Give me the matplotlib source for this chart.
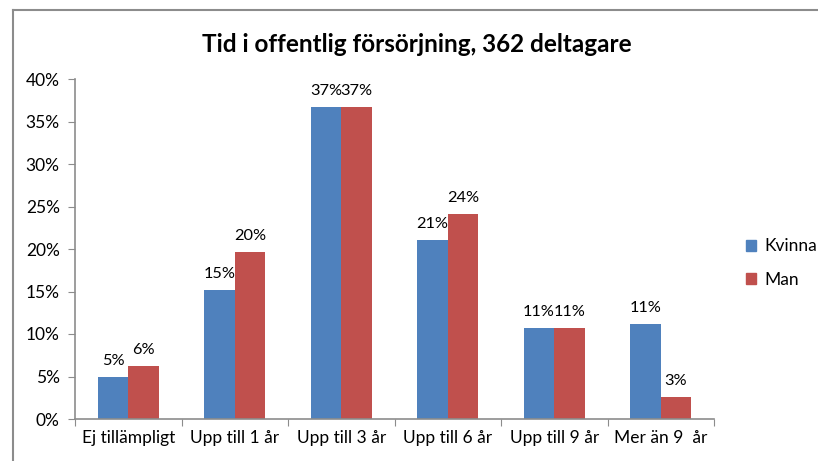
import matplotlib
matplotlib.use("Agg")
import matplotlib.pyplot as plt
import numpy as np
from matplotlib.lines import Line2D
from matplotlib.patches import Patch

categories = ["Ej tillämpligt", "Upp till 1 år", "Upp till 3 år", "Upp till 6 år", "Upp till 9 år", "Mer än 9  år"]
kvinna = [4.9, 15.2, 36.7, 21.1, 10.7, 11.2]
man = [6.2, 19.6, 36.7, 24.1, 10.7, 2.6]
kvinna_labels = ["5%", "15%", "37%", "21%", "11%", "11%"]
man_labels = ["6%", "20%", "37%", "24%", "11%", "3%"]
yticks = [0, 5, 10, 15, 20, 25, 30, 35, 40]
title = "Tid i offentlig försörjning, 362 deltagare"

plt.rcParams['font.family'] = ['Lato', 'DejaVu Sans']
blue = "#4F81BD"
red = "#C0504D"
grey = "#8C8C8C"

W, H = 818, 461
fig = plt.figure(figsize=(W / 100, H / 100), dpi=100)
fig.patch.set_facecolor("white")
ax = fig.add_axes([75 / W, 1 - 419 / H, (714 - 75) / W, (419 - 79) / H])

x = np.arange(len(categories))
w = 1 / 3.5
b1 = ax.bar(x - w / 2, kvinna, width=w, color=blue, label="Kvinna")
b2 = ax.bar(x + w / 2, man, width=w, color=red, label="Man")

for bars, labels in ((b1, kvinna_labels), (b2, man_labels)):
    for rect, lab in zip(bars, labels):
        ax.annotate(lab, (rect.get_x() + rect.get_width() / 2, rect.get_height()),
                    xytext=(0, 6.5), textcoords="offset points", ha="center", va="bottom",
                    fontsize=11.8, color="black")

ax.set_xlim(-0.5, len(categories) - 0.5)
ax.set_ylim(0, 40)
ax.set_yticks(yticks)
ax.set_yticklabels([f"{v}%" for v in yticks], fontsize=12.5)
ax.set_xticks(np.arange(len(categories) + 1) - 0.5)
ax.set_xticklabels([])
ax.set_xticks(x, minor=True)
ax.set_xticklabels(categories, minor=True, fontsize=12.5)
ax.tick_params(axis="x", which="major", length=5, color=grey, direction="out")
ax.tick_params(axis="x", which="minor", length=0, pad=8)
ax.tick_params(axis="y", length=5, color=grey, direction="out", pad=6)

for s in ("top", "right"):
    ax.spines[s].set_visible(False)
for s in ("left", "bottom"):
    ax.spines[s].set_color(grey)
    ax.spines[s].set_linewidth(1.2)

fig.text(417 / W, 1 - 44 / H, title, ha="center", va="center", fontsize=17.5, fontweight="bold")

handles = [Patch(color=blue, label="Kvinna"), Patch(color=red, label="Man")]
fig.legend(handles=handles, loc="center left", bbox_to_anchor=(730 / W, 1 - 263 / H),
           frameon=False, fontsize=12.5, handlelength=0.6, handleheight=0.6,
           handletextpad=0.5, labelspacing=1.0)

fig.add_artist(Line2D([13 / W, 13 / W], [0, 1 - 10 / H], color=grey, lw=1.5))
fig.add_artist(Line2D([13 / W, 1], [1 - 10 / H, 1 - 10 / H], color=grey, lw=1.5))

fig.savefig("out.png", dpi=100, facecolor="white")
